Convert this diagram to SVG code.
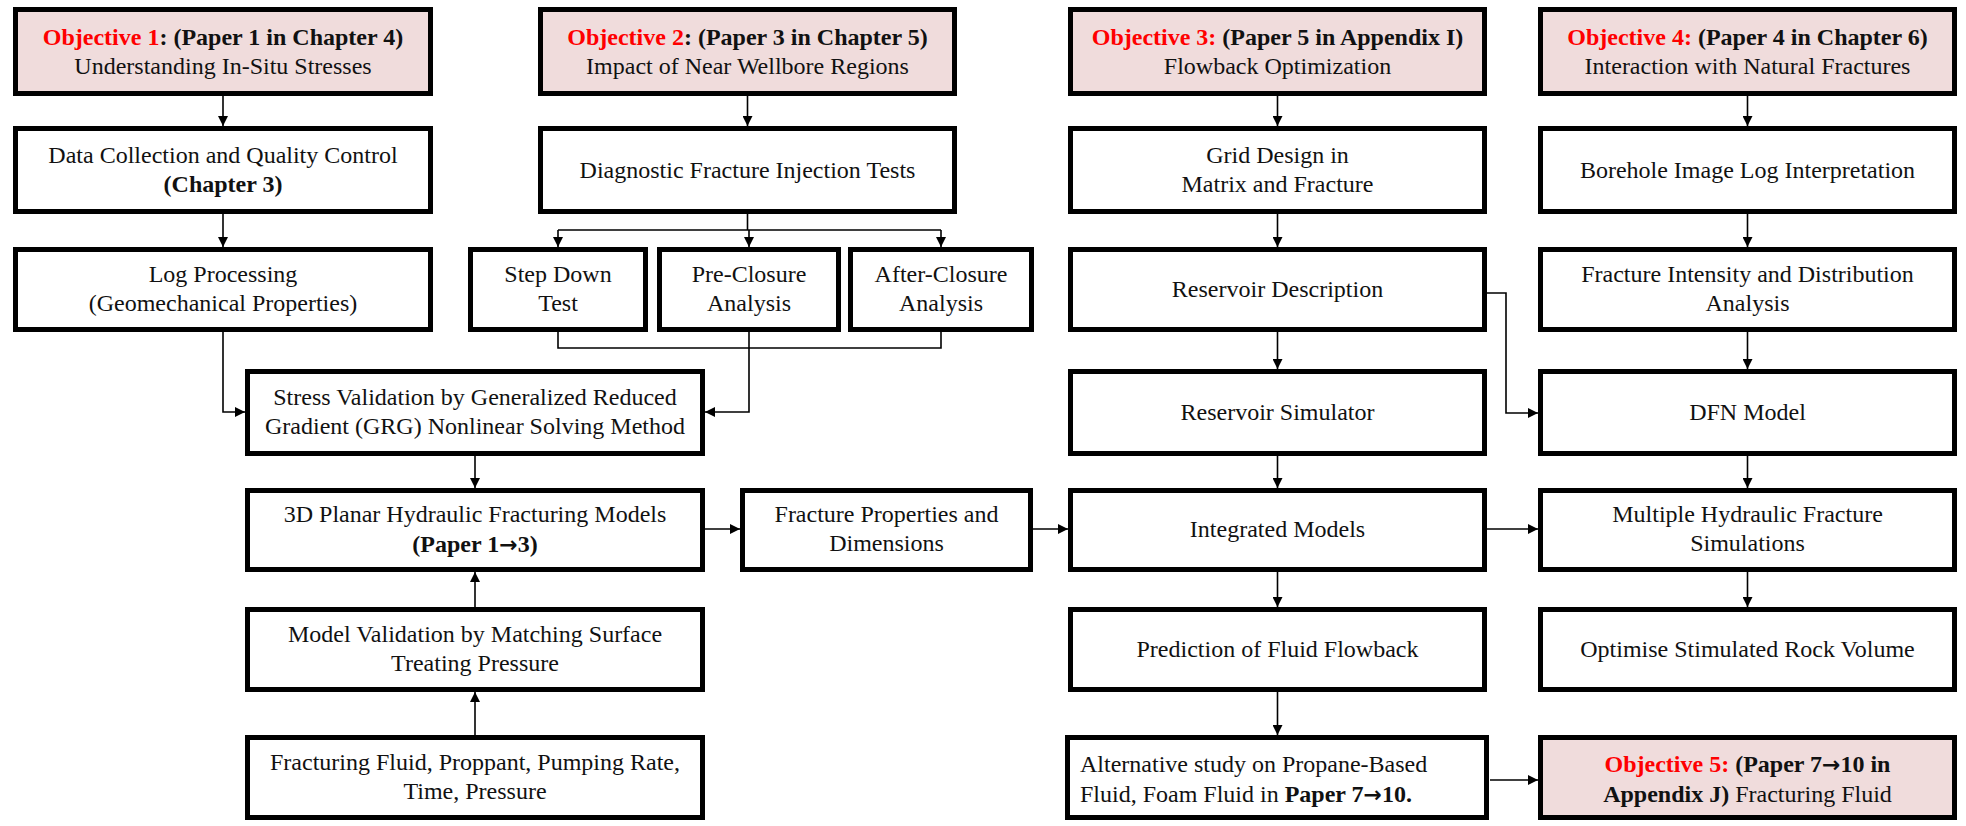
<svg xmlns="http://www.w3.org/2000/svg" width="1966" height="826" viewBox="0 0 1966 826">
<defs>
<marker id="ah" markerUnits="userSpaceOnUse" markerWidth="11" markerHeight="10" refX="10" refY="5" orient="auto">
<path d="M0,0 L10,5 L0,10 z" fill="#000"/>
</marker>
<style>
.box{fill:#fff;stroke:#000;stroke-width:5}
.obj{fill:#f0dcdc;stroke:#000;stroke-width:5}
text{font-family:"Liberation Serif","Times New Roman",serif;font-size:24px;fill:#111;text-anchor:middle}
text.l{text-anchor:start}
.b{font-weight:bold}
.r{fill:#ff0000;font-weight:bold}
.ar{font-family:"DejaVu Sans",sans-serif;font-weight:bold;font-size:22px}
.c{fill:none;stroke:#000;stroke-width:1.6}
.a{marker-end:url(#ah)}
</style>
</defs>
<rect width="1966" height="826" fill="#fff"/>

<g id="obj1"><rect class="obj" x="15.5" y="9.5" width="415" height="84"/>
<text x="223" y="45"><tspan class="r">Objective 1</tspan><tspan class="b">: (Paper 1 in Chapter 4)</tspan></text>
<text x="223" y="74">Understanding In-Situ Stresses</text></g>

<g id="data"><rect class="box" x="15.5" y="128.5" width="415" height="83"/>
<text x="223" y="163">Data Collection and Quality Control</text>
<text x="223" y="192" class="b">(Chapter 3)</text></g>

<g id="log"><rect class="box" x="15.5" y="249.5" width="415" height="80"/>
<text x="223" y="282">Log Processing</text>
<text x="223" y="311">(Geomechanical Properties)</text></g>

<g id="obj2"><rect class="obj" x="540.5" y="9.5" width="414" height="84"/>
<text x="747.5" y="45"><tspan class="r">Objective 2</tspan><tspan class="b">: (Paper 3 in Chapter 5)</tspan></text>
<text x="747.5" y="74">Impact of Near Wellbore Regions</text></g>

<g id="dfit"><rect class="box" x="540.5" y="128.5" width="414" height="83"/>
<text x="747.5" y="178">Diagnostic Fracture Injection Tests</text></g>

<g id="step"><rect class="box" x="470.5" y="249.5" width="175" height="80"/>
<text x="558" y="282">Step Down</text>
<text x="558" y="311">Test</text></g>

<g id="pre"><rect class="box" x="659.5" y="249.5" width="179" height="80"/>
<text x="749" y="282">Pre-Closure</text>
<text x="749" y="311">Analysis</text></g>

<g id="after"><rect class="box" x="850.5" y="249.5" width="181" height="80"/>
<text x="941" y="282">After-Closure</text>
<text x="941" y="311">Analysis</text></g>

<g id="stress"><rect class="box" x="247.5" y="371.5" width="455" height="82"/>
<text x="475" y="405">Stress Validation by Generalized Reduced</text>
<text x="475" y="434">Gradient (GRG) Nonlinear Solving Method</text></g>

<g id="planar"><rect class="box" x="247.5" y="490.5" width="455" height="79"/>
<text x="475" y="522">3D Planar Hydraulic Fracturing Models</text>
<text x="475" y="552" class="b">(Paper 1<tspan class="ar">→</tspan>3)</text></g>

<g id="frac"><rect class="box" x="742.5" y="490.5" width="288" height="79"/>
<text x="886.5" y="522">Fracture Properties and</text>
<text x="886.5" y="551">Dimensions</text></g>

<g id="modelval"><rect class="box" x="247.5" y="609.5" width="455" height="80"/>
<text x="475" y="642">Model Validation by Matching Surface</text>
<text x="475" y="671">Treating Pressure</text></g>

<g id="fluid"><rect class="box" x="247.5" y="737.5" width="455" height="80"/>
<text x="475" y="770">Fracturing Fluid, Proppant, Pumping Rate,</text>
<text x="475" y="799">Time, Pressure</text></g>

<g id="obj3"><rect class="obj" x="1070.5" y="9.5" width="414" height="84"/>
<text x="1277.5" y="45"><tspan class="r">Objective 3:</tspan><tspan class="b"> (Paper 5 in Appendix I)</tspan></text>
<text x="1277.5" y="74">Flowback Optimization</text></g>

<g id="grid"><rect class="box" x="1070.5" y="128.5" width="414" height="83"/>
<text x="1277.5" y="163">Grid Design in</text>
<text x="1277.5" y="192">Matrix and Fracture</text></g>

<g id="resdesc"><rect class="box" x="1070.5" y="249.5" width="414" height="80"/>
<text x="1277.5" y="297">Reservoir Description</text></g>

<g id="ressim"><rect class="box" x="1070.5" y="371.5" width="414" height="82"/>
<text x="1277.5" y="420">Reservoir Simulator</text></g>

<g id="integ"><rect class="box" x="1070.5" y="490.5" width="414" height="79"/>
<text x="1277.5" y="537">Integrated Models</text></g>

<g id="pred"><rect class="box" x="1070.5" y="609.5" width="414" height="80"/>
<text x="1277.5" y="657">Prediction of Fluid Flowback</text></g>

<g id="alt"><rect class="box" x="1067.5" y="737.5" width="419" height="80"/>
<text x="1080" y="772" class="l">Alternative study on Propane-Based</text>
<text x="1080" y="802" class="l">Fluid, Foam Fluid in <tspan class="b">Paper 7<tspan class="ar">→</tspan>10.</tspan></text></g>

<g id="obj4"><rect class="obj" x="1540.5" y="9.5" width="414" height="84"/>
<text x="1747.5" y="45"><tspan class="r">Objective 4:</tspan><tspan class="b"> (Paper 4 in Chapter 6)</tspan></text>
<text x="1747.5" y="74">Interaction with Natural Fractures</text></g>

<g id="bore"><rect class="box" x="1540.5" y="128.5" width="414" height="83"/>
<text x="1747.5" y="178">Borehole Image Log Interpretation</text></g>

<g id="fint"><rect class="box" x="1540.5" y="249.5" width="414" height="80"/>
<text x="1747.5" y="282">Fracture Intensity and Distribution</text>
<text x="1747.5" y="311">Analysis</text></g>

<g id="dfn"><rect class="box" x="1540.5" y="371.5" width="414" height="82"/>
<text x="1747.5" y="420">DFN Model</text></g>

<g id="multi"><rect class="box" x="1540.5" y="490.5" width="414" height="79"/>
<text x="1747.5" y="522">Multiple Hydraulic Fracture</text>
<text x="1747.5" y="551">Simulations</text></g>

<g id="opt"><rect class="box" x="1540.5" y="609.5" width="414" height="80"/>
<text x="1747.5" y="657">Optimise Stimulated Rock Volume</text></g>

<g id="obj5"><rect class="obj" x="1540.5" y="737.5" width="414" height="80"/>
<text x="1747.5" y="772"><tspan class="r">Objective 5:</tspan><tspan class="b"> (Paper 7<tspan class="ar">→</tspan>10 in</tspan></text>
<text x="1747.5" y="802"><tspan class="b">Appendix J)</tspan> Fracturing Fluid</text></g>

<g id="connectors">
<path class="c a" d="M223,96 V126"/>
<path class="c a" d="M223,214 V247"/>
<path class="c a" d="M223,332 V412 H245"/>
<path class="c a" d="M747.5,96 V126"/>
<path class="c" d="M747.5,214 V230 M558,230 H941"/>
<path class="c a" d="M558,230 V247"/>
<path class="c a" d="M749,230 V247"/>
<path class="c a" d="M941,230 V247"/>
<path class="c" d="M558,332 V348 H941 V332"/>
<path class="c a" d="M749,332 V412 H705"/>
<path class="c a" d="M475,456 V488"/>
<path class="c a" d="M705,529 H740"/>
<path class="c a" d="M1033,529 H1068"/>
<path class="c a" d="M475,607 V572"/>
<path class="c a" d="M475,735 V692"/>
<path class="c a" d="M1277.5,96 V126"/>
<path class="c a" d="M1277.5,214 V247"/>
<path class="c a" d="M1277.5,332 V369"/>
<path class="c a" d="M1277.5,456 V488"/>
<path class="c a" d="M1277.5,572 V607"/>
<path class="c a" d="M1277.5,692 V735"/>
<path class="c a" d="M1490,780 H1538"/>
<path class="c a" d="M1487,293 H1506 V413 H1538"/>
<path class="c a" d="M1487,529 H1538"/>
<path class="c a" d="M1747.5,96 V126"/>
<path class="c a" d="M1747.5,214 V247"/>
<path class="c a" d="M1747.5,332 V369"/>
<path class="c a" d="M1747.5,456 V488"/>
<path class="c a" d="M1747.5,572 V607"/>
</g>
</svg>
